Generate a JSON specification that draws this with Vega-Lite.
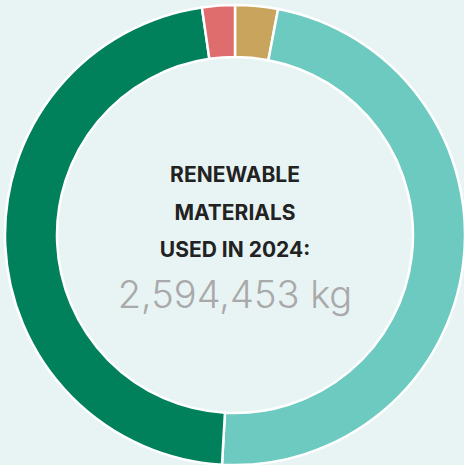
{
  "$schema": "https://vega.github.io/schema/vega-lite/v6.json",
  "autosize": {"type": "fit", "contains": "padding"},
  "width": 464,
  "height": 465,
  "padding": {"left": 6, "top": 5, "right": 0, "bottom": 0},
  "background": "#e8f4f4",
  "config": {"view": {"stroke": null}},
  "datasets": {
    "materials": [
      {"material": "A", "share": 3.0, "idx": 1},
      {"material": "B", "share": 47.9, "idx": 2},
      {"material": "C", "share": 46.8, "idx": 3},
      {"material": "D", "share": 2.3, "idx": 4}
    ]
  },
  "layer": [
    {
      "data": {"name": "materials"},
      "mark": {"type": "arc", "radius": 230, "radius2": 178, "stroke": "#ffffff", "strokeWidth": 2.5},
      "encoding": {
        "theta": {"field": "share", "type": "quantitative", "stack": true},
        "order": {"field": "idx", "type": "quantitative"},
        "color": {
          "field": "material",
          "type": "nominal",
          "scale": {"domain": ["A", "B", "C", "D"], "range": ["#c8a45c", "#6dcac0", "#00815b", "#e06d6d"]},
          "legend": null
        }
      }
    },
    {
      "data": {"values": [{"label": "RENEWABLE\nMATERIALS\nUSED IN 2024:"}]},
      "mark": {"type": "text", "font": "Inter", "fontWeight": "bold", "fontSize": 21, "letterSpacing": 1.4, "lineBreak": "\n", "lineHeight": 37.7, "align": "center", "baseline": "middle", "dy": -59, "color": "#222222"},
      "encoding": {"text": {"field": "label"}}
    },
    {
      "data": {"values": [{"label": "2,594,453 kg"}]},
      "mark": {"type": "text", "font": "Inter", "fontWeight": 300, "fontSize": 38, "align": "center", "baseline": "middle", "dy": 62, "color": "#a9a9a9"},
      "encoding": {"text": {"field": "label"}}
    }
  ]
}
